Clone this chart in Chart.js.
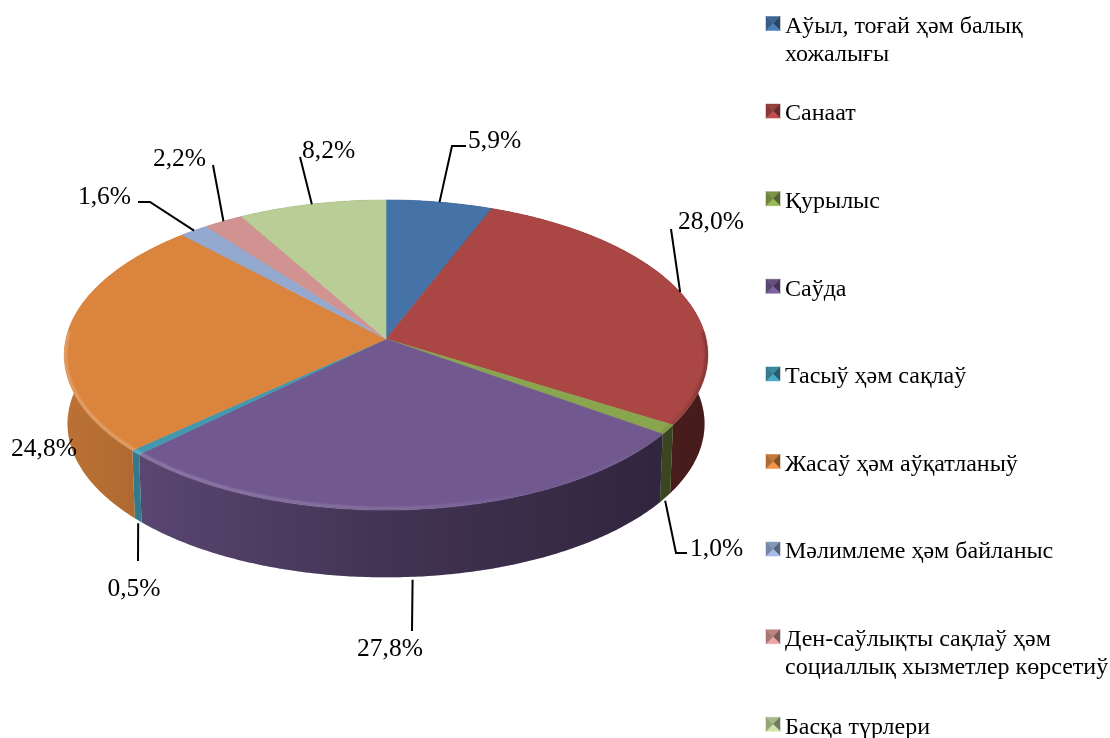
<!DOCTYPE html>
<html>
<head>
<meta charset="utf-8">
<script src="https://cdn.jsdelivr.net/npm/chart.js@4"></script>
<style>
  html, body { margin: 0; padding: 0; background: #fff; }
  canvas { display: block; }
</style>
</head>
<body>
<canvas id="pieChart" width="1110" height="738"></canvas>
<script>
const categories = [
    'Аўыл, тоғай ҳәм балық хожалығы',
    'Санаат',
    'Қурылыс',
    'Саўда',
    'Тасыў ҳәм сақлаў',
    'Жасаў ҳәм аўқатланыў',
    'Мәлимлеме ҳәм байланыс',
    'Ден-саўлықты сақлаў ҳәм социаллық хызметлер көрсетиў',
    'Басқа түрлери'
];
const shares = [5.9, 28.0, 1.0, 27.8, 0.5, 24.8, 1.6, 2.2, 8.2];
const sliceColors = ['#4572A7', '#AA4643', '#89A54E', '#71588F', '#4198AF', '#DB843D', '#93A9CF', '#D19392', '#B9CD96'];

// legend lines, wrapped the way the reference wraps them
const legendLines = [
    ['Аўыл, тоғай ҳәм балық', 'хожалығы'],
    ['Санаат'],
    ['Қурылыс'],
    ['Саўда'],
    ['Тасыў ҳәм сақлаў'],
    ['Жасаў ҳәм аўқатланыў'],
    ['Мәлимлеме ҳәм байланыс'],
    ['Ден-саўлықты сақлаў ҳәм', 'социаллық хызметлер көрсетиў'],
    ['Басқа түрлери']
];

const LEGEND_FONT = '24px "Liberation Serif"';
const LABEL_FONT = '25.5px "Liberation Serif"';

// perspective of the tilted disc: apex, radius and the projective terms
const view = { cx: 386, apexY: 339, r: 320, a: 118.4, c: -0.1032, wallScale: 0.99, wallDrop: 69 };

// label anchor (x, y, align) and leader bend points, one per slice
const labelLayout = [
    { x: 468, y: 141, align: 'left', wall: false, bends: [[452, 146], [466, 146]] },
    { x: 678, y: 222, align: 'left', wall: false, bends: [[671, 229]] },
    { x: 690, y: 549, align: 'left', wall: true, bends: [[676, 553], [687, 553]] },
    { x: 390, y: 649, align: 'center', wall: true, bends: [[412, 631]] },
    { x: 134, y: 589, align: 'center', wall: true, bends: [[138, 561]] },
    { x: 11, y: 449, align: 'left', wall: false, bends: null },
    { x: 131, y: 197, align: 'right', wall: false, bends: [[150, 202], [138, 202]] },
    { x: 206, y: 159, align: 'right', wall: false, bends: [[213, 165]] },
    { x: 302, y: 151, align: 'left', wall: false, bends: [[300, 157]] }
];

const legendBox = { x: 766, textX: 785, firstY: 26.5, step: 87.6, lineHeight: 28, size: 14 };

// project a chart.js arc angle onto the rim of the disc
function rim(angle) {
    const th = angle + Math.PI / 2;
    const u = Math.sin(th), v = -Math.cos(th);
    const d = 1 + view.c * v;
    return { x: view.cx + view.r * u / d, y: (view.a * v + view.apexY) / d };
}

function wallPoint(p) {
    return {
        x: view.cx + (p.x - view.cx) * view.wallScale,
        y: view.apexY + (p.y - view.apexY) * view.wallScale + view.wallDrop
    };
}

function arcPoints(start, end) {
    const n = Math.max(2, Math.ceil((end - start) / 0.01));
    const pts = [];
    for (let i = 0; i <= n; i++) pts.push(rim(start + (end - start) * i / n));
    return pts;
}

function shade(hex, f) {
    const n = parseInt(hex.slice(1), 16);
    const ch = s => Math.min(255, Math.round(((n >> s) & 255) * f));
    return `rgb(${ch(16)},${ch(8)},${ch(0)})`;
}

const disc3d = {
    id: 'disc3d',
    beforeDatasetsDraw(chart) {
        const ctx = chart.ctx;
        const arcs = chart.getDatasetMeta(0).data;

        // side wall first, the top surface covers the back of it
        const wallShade = ctx.createLinearGradient(64, 0, 708, 0);
        wallShade.addColorStop(0, 'rgba(0,0,0,0.14)');
        wallShade.addColorStop(0.5, 'rgba(0,0,0,0.42)');
        wallShade.addColorStop(1, 'rgba(0,0,0,0.60)');
        arcs.forEach((arc, i) => {
            const top = arcPoints(arc.startAngle, arc.endAngle);
            const bottom = top.map(wallPoint).reverse();
            ctx.beginPath();
            top.concat(bottom).forEach((p, k) => k ? ctx.lineTo(p.x, p.y) : ctx.moveTo(p.x, p.y));
            ctx.closePath();
            ctx.fillStyle = sliceColors[i];
            ctx.fill();
            ctx.fillStyle = wallShade;
            ctx.fill();
        });

        // top surface
        arcs.forEach((arc, i) => {
            ctx.beginPath();
            ctx.moveTo(view.cx, view.apexY);
            arcPoints(arc.startAngle, arc.endAngle).forEach(p => ctx.lineTo(p.x, p.y));
            ctx.closePath();
            ctx.fillStyle = sliceColors[i];
            ctx.fill();
            ctx.strokeStyle = sliceColors[i];
            ctx.lineWidth = 0.6;
            ctx.stroke();
        });

        // soft bevel on the front rim: light on the left, dark on the right
        const bevel = ctx.createLinearGradient(64, 0, 708, 0);
        bevel.addColorStop(0, 'rgba(255,255,255,0.28)');
        bevel.addColorStop(0.55, 'rgba(255,255,255,0.16)');
        bevel.addColorStop(0.75, 'rgba(255,255,255,0)');
        bevel.addColorStop(1, 'rgba(0,0,0,0.28)');
        ctx.save();
        ctx.filter = 'blur(0.8px)';
        ctx.beginPath();
        arcPoints(-0.05, Math.PI + 0.05).forEach((p, k) => {
            const q = { x: view.cx + (p.x - view.cx) * 0.996, y: view.apexY + (p.y - view.apexY) * 0.99 };
            k ? ctx.lineTo(q.x, q.y) : ctx.moveTo(q.x, q.y);
        });
        ctx.strokeStyle = bevel;
        ctx.lineWidth = 2.5;
        ctx.stroke();
        ctx.restore();

        drawLabels(ctx, arcs);
        drawLegend(ctx);
        return false;
    }
};

function drawLabels(ctx, arcs) {
    ctx.font = LABEL_FONT;
    ctx.textBaseline = 'middle';
    arcs.forEach((arc, i) => {
        const lay = labelLayout[i];
        if (lay.bends) {
            const p = rim((arc.startAngle + arc.endAngle) / 2);
            const from = lay.wall ? wallPoint(p) : p;
            ctx.beginPath();
            ctx.moveTo(from.x, from.y + (lay.wall ? 3 : 0));
            lay.bends.forEach(b => ctx.lineTo(b[0], b[1]));
            ctx.strokeStyle = '#000';
            ctx.lineWidth = 2;
            ctx.stroke();
        }
        ctx.fillStyle = '#000';
        ctx.textAlign = lay.align;
        ctx.fillText(shares[i].toFixed(1).replace('.', ',') + '%', lay.x, lay.y);
    });
}

function drawLegend(ctx) {
    ctx.font = LEGEND_FONT;
    ctx.textBaseline = 'middle';
    ctx.textAlign = 'left';
    legendLines.forEach((lines, i) => {
        const y = legendBox.firstY + legendBox.step * i;
        const s = legendBox.size, x0 = legendBox.x, y0 = y - s / 2 - 3;
        const mx = x0 + s / 2, my = y0 + s / 2;
        // bevelled marker, four triangles
        const faces = [
            [[x0, y0], [x0 + s, y0], 0.9],
            [[x0 + s, y0], [x0 + s, y0 + s], 0.6],
            [[x0 + s, y0 + s], [x0, y0 + s], 1.12],
            [[x0, y0 + s], [x0, y0], 0.8]
        ];
        faces.forEach(f => {
            const col = shade(sliceColors[i], f[2]);
            ctx.beginPath();
            ctx.moveTo(f[0][0], f[0][1]);
            ctx.lineTo(f[1][0], f[1][1]);
            ctx.lineTo(mx, my);
            ctx.closePath();
            ctx.fillStyle = col;
            ctx.fill();
            ctx.strokeStyle = col;
            ctx.lineWidth = 0.5;
            ctx.stroke();
        });
        ctx.fillStyle = '#000';
        lines.forEach((line, k) => ctx.fillText(line, legendBox.textX, y + k * legendBox.lineHeight));
    });
}

new Chart(document.getElementById('pieChart').getContext('2d'), {
    type: 'pie',
    data: {
        labels: categories,
        datasets: [{ data: shares, backgroundColor: sliceColors, borderWidth: 0 }]
    },
    options: {
        responsive: false,
        animation: false,
        plugins: {
            legend: { display: false },
            tooltip: { enabled: false }
        }
    },
    plugins: [disc3d]
});
</script>
</body>
</html>
